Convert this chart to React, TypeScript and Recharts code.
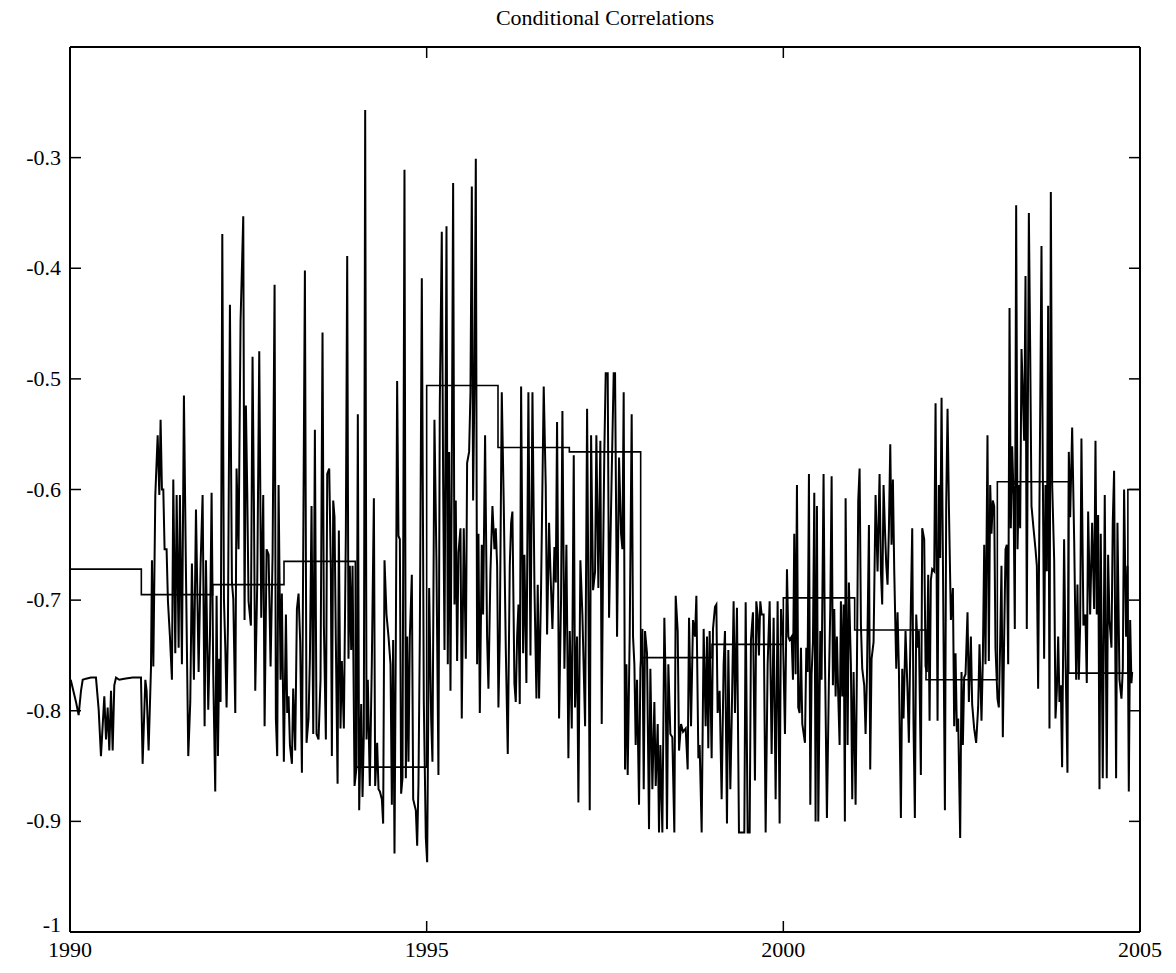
import { Line, LineChart, XAxis, YAxis } from "recharts";

// weekly conditional correlation as [year, value]
const dcc1990 = [
  [1990.01, -0.772], [1990.084, -0.792], [1990.121, -0.804], [1990.154, -0.782], [1990.178, -0.772],
  [1990.224, -0.771], [1990.294, -0.77], [1990.364, -0.77], [1990.402, -0.799], [1990.434, -0.841],
  [1990.481, -0.787], [1990.505, -0.826], [1990.528, -0.797], [1990.551, -0.836], [1990.575, -0.782],
  [1990.598, -0.836], [1990.621, -0.777], [1990.645, -0.77], [1990.691, -0.772], [1990.761, -0.771],
  [1990.878, -0.77], [1990.995, -0.77], [1991.018, -0.848], [1991.056, -0.772], [1991.074, -0.782],
  [1991.102, -0.836], [1991.135, -0.762], [1991.149, -0.664], [1991.168, -0.76], [1991.196, -0.605],
  [1991.229, -0.551],
];
const dcc1991 = [
  [1991.252, -0.605], [1991.27, -0.537], [1991.289, -0.6], [1991.308, -0.6], [1991.326, -0.654],
  [1991.354, -0.654], [1991.373, -0.701], [1991.401, -0.733], [1991.429, -0.772], [1991.448, -0.591],
  [1991.476, -0.748], [1991.495, -0.605], [1991.523, -0.743], [1991.541, -0.605], [1991.569, -0.758],
  [1991.597, -0.515], [1991.625, -0.672], [1991.658, -0.841], [1991.686, -0.792], [1991.709, -0.667],
  [1991.737, -0.772], [1991.766, -0.618], [1991.803, -0.765], [1991.831, -0.667], [1991.859, -0.605],
  [1991.887, -0.814], [1991.906, -0.664], [1991.938, -0.799], [1991.962, -0.733], [1991.985, -0.603],
  [1992.008, -0.767], [1992.036, -0.873], [1992.055, -0.696], [1992.074, -0.841], [1992.092, -0.753],
  [1992.111, -0.792], [1992.135, -0.369], [1992.158, -0.699], [1992.177, -0.743], [1992.195, -0.797],
  [1992.214, -0.723], [1992.242, -0.433], [1992.27, -0.684], [1992.289, -0.699], [1992.317, -0.802],
  [1992.335, -0.581], [1992.363, -0.654], [1992.391, -0.448], [1992.429, -0.353], [1992.447, -0.718],
  [1992.466, -0.524], [1992.485, -0.603], [1992.503, -0.701],
];
const dcc1992 = [
  [1992.536, -0.723], [1992.559, -0.48], [1992.578, -0.61], [1992.597, -0.782], [1992.625, -0.684],
  [1992.653, -0.475], [1992.681, -0.716], [1992.709, -0.605], [1992.728, -0.814], [1992.756, -0.654],
  [1992.784, -0.659], [1992.812, -0.76], [1992.84, -0.659], [1992.868, -0.415], [1992.886, -0.807],
  [1992.905, -0.841], [1992.924, -0.596], [1992.952, -0.772], [1992.97, -0.694], [1992.998, -0.846],
  [1993.027, -0.713], [1993.045, -0.802], [1993.064, -0.787], [1993.083, -0.831], [1993.111, -0.848],
  [1993.129, -0.78], [1993.157, -0.836], [1993.181, -0.708], [1993.204, -0.694], [1993.227, -0.738],
  [1993.251, -0.856], [1993.274, -0.605], [1993.293, -0.402], [1993.316, -0.829], [1993.344, -0.807],
  [1993.363, -0.753], [1993.386, -0.615], [1993.41, -0.821], [1993.433, -0.546], [1993.456, -0.821],
  [1993.484, -0.826], [1993.512, -0.772], [1993.54, -0.458], [1993.559, -0.723], [1993.587, -0.826],
  [1993.606, -0.586], [1993.634, -0.581], [1993.657, -0.674], [1993.671, -0.841], [1993.69, -0.61],
  [1993.708, -0.625], [1993.727, -0.738], [1993.751, -0.866], [1993.769, -0.637],
];
const dcc1993 = [
  [1993.792, -0.816], [1993.811, -0.755], [1993.839, -0.816], [1993.867, -0.64], [1993.886, -0.389],
  [1993.904, -0.753], [1993.923, -0.669], [1993.942, -0.745], [1993.961, -0.669], [1993.989, -0.868],
  [1994.017, -0.851], [1994.035, -0.532], [1994.054, -0.89], [1994.082, -0.794], [1994.101, -0.878],
  [1994.119, -0.821], [1994.138, -0.257], [1994.157, -0.826], [1994.175, -0.772], [1994.203, -0.868],
  [1994.231, -0.758], [1994.26, -0.608], [1994.278, -0.868], [1994.306, -0.829], [1994.325, -0.871],
  [1994.344, -0.873], [1994.372, -0.88], [1994.39, -0.902], [1994.409, -0.664], [1994.437, -0.713],
  [1994.465, -0.733], [1994.493, -0.758], [1994.512, -0.885], [1994.53, -0.736], [1994.549, -0.929],
  [1994.568, -0.733], [1994.586, -0.502], [1994.605, -0.642], [1994.624, -0.645], [1994.642, -0.875],
  [1994.661, -0.861], [1994.689, -0.311], [1994.708, -0.861], [1994.727, -0.733], [1994.745, -0.846],
  [1994.764, -0.733], [1994.792, -0.677], [1994.811, -0.88], [1994.829, -0.885], [1994.848, -0.89],
  [1994.867, -0.922], [1994.885, -0.866], [1994.904, -0.733], [1994.932, -0.409], [1994.96, -0.792],
  [1994.988, -0.915],
];
const dcc1995 = [
  [1995.007, -0.937], [1995.035, -0.689], [1995.063, -0.807], [1995.081, -0.846], [1995.109, -0.537],
  [1995.137, -0.664], [1995.165, -0.858], [1995.184, -0.524], [1995.212, -0.367], [1995.231, -0.593],
  [1995.25, -0.745], [1995.278, -0.362], [1995.296, -0.758], [1995.315, -0.566], [1995.334, -0.782],
  [1995.352, -0.581], [1995.371, -0.323], [1995.39, -0.704], [1995.408, -0.61], [1995.427, -0.755],
  [1995.446, -0.657], [1995.474, -0.635], [1995.492, -0.807], [1995.52, -0.635], [1995.549, -0.753],
  [1995.567, -0.576], [1995.595, -0.566], [1995.614, -0.512], [1995.633, -0.326], [1995.651, -0.61],
  [1995.67, -0.502], [1995.689, -0.301], [1995.707, -0.758], [1995.726, -0.64], [1995.745, -0.802],
  [1995.773, -0.65], [1995.791, -0.713], [1995.819, -0.551], [1995.847, -0.733], [1995.866, -0.78],
  [1995.894, -0.674], [1995.922, -0.615], [1995.95, -0.654], [1995.969, -0.635], [1995.988, -0.669],
  [1996.006, -0.797], [1996.025, -0.733], [1996.053, -0.512], [1996.081, -0.615], [1996.109, -0.743],
  [1996.137, -0.839], [1996.165, -0.669], [1996.184, -0.63], [1996.202, -0.62], [1996.23, -0.775],
  [1996.249, -0.792], [1996.268, -0.733], [1996.287, -0.704],
];
const dcc1996 = [
  [1996.305, -0.794], [1996.324, -0.507], [1996.352, -0.748], [1996.37, -0.659], [1996.398, -0.775],
  [1996.426, -0.512], [1996.455, -0.75], [1996.483, -0.512], [1996.511, -0.689], [1996.539, -0.789],
  [1996.557, -0.686], [1996.576, -0.789], [1996.604, -0.689], [1996.641, -0.507], [1996.669, -0.596],
  [1996.688, -0.731], [1996.716, -0.63], [1996.735, -0.674], [1996.763, -0.726], [1996.791, -0.652],
  [1996.81, -0.684], [1996.828, -0.539], [1996.856, -0.807], [1996.884, -0.699], [1996.903, -0.529],
  [1996.931, -0.762], [1996.959, -0.65], [1996.987, -0.843], [1997.006, -0.728], [1997.034, -0.816],
  [1997.062, -0.569], [1997.08, -0.797], [1997.108, -0.733], [1997.127, -0.883], [1997.155, -0.664],
  [1997.183, -0.713], [1997.221, -0.814], [1997.249, -0.527], [1997.267, -0.694], [1997.286, -0.89],
  [1997.305, -0.551], [1997.333, -0.691], [1997.361, -0.674], [1997.379, -0.551], [1997.407, -0.689],
  [1997.435, -0.556], [1997.454, -0.812], [1997.473, -0.664], [1997.491, -0.564], [1997.51, -0.495],
  [1997.538, -0.495], [1997.557, -0.716],
];
const dcc1997 = [
  [1997.594, -0.586], [1997.622, -0.495], [1997.641, -0.495], [1997.669, -0.733], [1997.697, -0.571],
  [1997.725, -0.64], [1997.744, -0.654], [1997.762, -0.512], [1997.781, -0.853], [1997.8, -0.758],
  [1997.818, -0.858], [1997.846, -0.733], [1997.874, -0.532], [1997.893, -0.733], [1997.912, -0.758],
  [1997.93, -0.831], [1997.949, -0.772], [1997.977, -0.885], [1997.996, -0.762], [1998.024, -0.726],
  [1998.043, -0.871], [1998.061, -0.728], [1998.089, -0.748], [1998.117, -0.907], [1998.136, -0.762],
  [1998.164, -0.871], [1998.192, -0.792], [1998.211, -0.868], [1998.239, -0.812], [1998.257, -0.91],
  [1998.276, -0.831], [1998.304, -0.91], [1998.332, -0.716], [1998.351, -0.777], [1998.369, -0.907],
  [1998.388, -0.758], [1998.416, -0.821], [1998.444, -0.824], [1998.472, -0.91], [1998.491, -0.696],
  [1998.519, -0.728], [1998.538, -0.836], [1998.566, -0.812], [1998.594, -0.819], [1998.631, -0.816],
  [1998.659, -0.853], [1998.678, -0.716], [1998.706, -0.814], [1998.734, -0.718], [1998.762, -0.733],
  [1998.781, -0.696], [1998.809, -0.843],
];
const dcc1998 = [
  [1998.827, -0.831], [1998.855, -0.91], [1998.883, -0.726], [1998.911, -0.814], [1998.93, -0.733],
  [1998.948, -0.834], [1998.967, -0.728], [1998.995, -0.843], [1999.014, -0.726], [1999.042, -0.706],
  [1999.061, -0.704], [1999.079, -0.802], [1999.107, -0.782], [1999.135, -0.88], [1999.163, -0.758],
  [1999.182, -0.728], [1999.21, -0.902], [1999.229, -0.745], [1999.257, -0.871], [1999.275, -0.812],
  [1999.303, -0.701], [1999.322, -0.802], [1999.35, -0.707], [1999.378, -0.91], [1999.416, -0.91],
  [1999.453, -0.91], [1999.472, -0.702], [1999.5, -0.91], [1999.528, -0.91], [1999.546, -0.736],
  [1999.574, -0.711], [1999.602, -0.863], [1999.621, -0.701], [1999.64, -0.713], [1999.658, -0.75],
  [1999.677, -0.701], [1999.696, -0.713], [1999.724, -0.713], [1999.752, -0.91], [1999.78, -0.758],
  [1999.808, -0.701], [1999.836, -0.839], [1999.864, -0.716], [1999.892, -0.88], [1999.92, -0.701],
  [1999.948, -0.902], [1999.967, -0.708], [1999.995, -0.733], [2000.023, -0.821], [2000.051, -0.672],
  [2000.07, -0.733],
];
const dcc2000 = [
  [2000.088, -0.736], [2000.116, -0.733], [2000.135, -0.772], [2000.153, -0.64], [2000.172, -0.767],
  [2000.191, -0.596], [2000.209, -0.797], [2000.228, -0.802], [2000.247, -0.743], [2000.266, -0.812],
  [2000.303, -0.829], [2000.322, -0.743], [2000.34, -0.765], [2000.359, -0.586], [2000.378, -0.885],
  [2000.396, -0.767], [2000.415, -0.738], [2000.434, -0.603], [2000.452, -0.9], [2000.471, -0.615],
  [2000.49, -0.9], [2000.518, -0.728], [2000.536, -0.772], [2000.564, -0.586], [2000.583, -0.748],
  [2000.611, -0.897], [2000.639, -0.772], [2000.658, -0.708], [2000.677, -0.588], [2000.695, -0.777],
  [2000.714, -0.708], [2000.733, -0.787], [2000.751, -0.733], [2000.77, -0.787], [2000.789, -0.831],
  [2000.807, -0.701], [2000.826, -0.787], [2000.845, -0.704], [2000.863, -0.9], [2000.873, -0.608],
  [2000.901, -0.831], [2000.919, -0.684], [2000.947, -0.758], [2000.966, -0.88], [2000.985, -0.765],
  [2001.013, -0.885], [2001.032, -0.758], [2001.05, -0.61], [2001.069, -0.581], [2001.088, -0.723],
  [2001.106, -0.762], [2001.134, -0.777], [2001.153, -0.821], [2001.172, -0.77], [2001.2, -0.632],
  [2001.218, -0.853], [2001.237, -0.753], [2001.265, -0.738], [2001.293, -0.605], [2001.321, -0.674],
];
const dcc2001 = [
  [2001.349, -0.586], [2001.368, -0.674], [2001.386, -0.704], [2001.405, -0.596], [2001.424, -0.635],
  [2001.442, -0.667], [2001.461, -0.686], [2001.48, -0.635], [2001.499, -0.559], [2001.517, -0.65],
  [2001.536, -0.591], [2001.555, -0.674], [2001.583, -0.762], [2001.601, -0.711], [2001.62, -0.762],
  [2001.648, -0.897], [2001.667, -0.762], [2001.685, -0.807], [2001.713, -0.728], [2001.741, -0.782],
  [2001.76, -0.829], [2001.788, -0.704], [2001.807, -0.635], [2001.825, -0.812], [2001.844, -0.897],
  [2001.863, -0.713], [2001.882, -0.743], [2001.9, -0.728], [2001.928, -0.858], [2001.947, -0.635],
  [2001.975, -0.645], [2001.994, -0.76], [2002.012, -0.765], [2002.031, -0.677], [2002.05, -0.809],
  [2002.068, -0.682], [2002.087, -0.672], [2002.115, -0.674], [2002.134, -0.522], [2002.162, -0.809],
  [2002.18, -0.596], [2002.199, -0.662], [2002.218, -0.517], [2002.236, -0.654], [2002.265, -0.89],
  [2002.283, -0.615], [2002.302, -0.527], [2002.321, -0.615], [2002.349, -0.718], [2002.377, -0.689],
  [2002.395, -0.814], [2002.414, -0.748], [2002.433, -0.819], [2002.451, -0.807], [2002.479, -0.915],
  [2002.498, -0.765], [2002.517, -0.831], [2002.535, -0.77], [2002.554, -0.767], [2002.582, -0.711],
  [2002.601, -0.792],
];
const dcc2002 = [
  [2002.629, -0.733], [2002.647, -0.794], [2002.675, -0.816], [2002.703, -0.829], [2002.731, -0.797],
  [2002.75, -0.74], [2002.778, -0.809], [2002.797, -0.753], [2002.816, -0.65], [2002.834, -0.758],
  [2002.862, -0.551], [2002.881, -0.755], [2002.9, -0.596], [2002.918, -0.64], [2002.937, -0.61],
  [2002.956, -0.615], [2002.974, -0.743], [2003.002, -0.789], [2003.021, -0.797], [2003.04, -0.738],
  [2003.058, -0.669], [2003.077, -0.824], [2003.096, -0.733], [2003.115, -0.654], [2003.133, -0.65],
  [2003.152, -0.758], [2003.171, -0.436], [2003.189, -0.635], [2003.208, -0.561], [2003.227, -0.605],
  [2003.245, -0.726], [2003.264, -0.343], [2003.283, -0.654], [2003.301, -0.596], [2003.32, -0.635],
  [2003.339, -0.473], [2003.357, -0.512], [2003.376, -0.556], [2003.395, -0.407], [2003.413, -0.726],
  [2003.442, -0.35], [2003.46, -0.47], [2003.479, -0.615], [2003.507, -0.635], [2003.535, -0.654],
  [2003.554, -0.669], [2003.572, -0.78], [2003.591, -0.61], [2003.619, -0.38], [2003.638, -0.586],
  [2003.656, -0.753], [2003.675, -0.596], [2003.694, -0.674], [2003.712, -0.434], [2003.731, -0.816],
  [2003.75, -0.331], [2003.769, -0.596], [2003.797, -0.664], [2003.815, -0.807], [2003.834, -0.782],
  [2003.853, -0.733],
];
const dcc2003 = [
  [2003.871, -0.792], [2003.89, -0.777], [2003.908, -0.851], [2003.936, -0.645], [2003.955, -0.748],
  [2003.983, -0.856], [2004.002, -0.566], [2004.021, -0.625], [2004.049, -0.544], [2004.077, -0.645],
  [2004.105, -0.772], [2004.123, -0.686], [2004.142, -0.772], [2004.161, -0.723], [2004.179, -0.554],
  [2004.207, -0.723], [2004.235, -0.713], [2004.254, -0.775], [2004.273, -0.62], [2004.301, -0.713],
  [2004.329, -0.63], [2004.357, -0.708], [2004.376, -0.556], [2004.394, -0.713], [2004.413, -0.623],
  [2004.432, -0.871], [2004.45, -0.64], [2004.478, -0.861], [2004.506, -0.605], [2004.534, -0.861],
  [2004.553, -0.659], [2004.572, -0.718], [2004.6, -0.743], [2004.618, -0.63], [2004.637, -0.583],
  [2004.665, -0.861], [2004.684, -0.63], [2004.712, -0.772], [2004.74, -0.789], [2004.759, -0.762],
  [2004.777, -0.6], [2004.805, -0.733], [2004.824, -0.669], [2004.843, -0.873], [2004.862, -0.718],
  [2004.88, -0.775], [2004.89, -0.765],
];

// piecewise constant (yearly) correlation
const stepStarts = [1990, 1991, 1992, 1993, 1994, 1995, 1996, 1997, 1998, 1999, 2000, 2001, 2002, 2003, 2004, 2004.83, 2005];
const stepLevels = [-0.672, -0.695, -0.686, -0.665, -0.851, -0.506, -0.562, -0.566, -0.752, -0.74, -0.698, -0.727, -0.772, -0.593, -0.766, -0.6, -0.6];

const xTicks = [1990, 1995, 2000, 2005];
const yTicks = [-1, -0.9, -0.8, -0.7, -0.6, -0.5, -0.4, -0.3];

const dccData = [
  ...dcc1990, ...dcc1991, ...dcc1992, ...dcc1993, ...dcc1995, ...dcc1996,
  ...dcc1997, ...dcc1998, ...dcc2000, ...dcc2001, ...dcc2002, ...dcc2003,
].map(([year, value]) => ({ year, value }));
const stepData = stepStarts.map((year, i) => ({ year, value: stepLevels[i] }));

const font = "Liberation Serif";
const fontSize = 22;
const tickLen = 11;

const fmtY = (v: number) => (v === -1 ? "-1" : v.toFixed(1));

const LeftTick = ({ x, y, payload }: any) => (
  <g>
    <line x1={x} x2={x + tickLen} y1={y} y2={y} stroke="#000" strokeWidth={1.5} />
    <text x={x - 9} y={payload.value === -1 ? y : y + 7} textAnchor="end" fontFamily={font} fontSize={fontSize} fill="#000">
      {fmtY(payload.value)}
    </text>
  </g>
);
const RightTick = ({ x, y }: any) => (
  <line x1={x - tickLen} x2={x} y1={y} y2={y} stroke="#000" strokeWidth={1.5} />
);
const BottomTick = ({ x, y, payload }: any) => (
  <g>
    <line x1={x} x2={x} y1={y} y2={y - tickLen} stroke="#000" strokeWidth={1.5} />
    <text x={x} y={y + 25} textAnchor="middle" fontFamily={font} fontSize={fontSize} fill="#000">
      {payload.value}
    </text>
  </g>
);
const TopTick = ({ x, y }: any) => (
  <line x1={x} x2={x} y1={y} y2={y + tickLen} stroke="#000" strokeWidth={1.5} />
);

export default function App() {
  const axisLine = { stroke: "#000", strokeWidth: 2 };
  return (
    <div style={{ position: "relative", width: 1160, height: 957 }}>
      <div
        style={{
          position: "absolute", top: -3, left: 62, width: 1070, textAlign: "center",
          fontFamily: font, fontSize: 22, lineHeight: "26px", color: "#000",
        }}
      >
        Conditional Correlations
      </div>
      <LineChart width={1160} height={957} margin={{ top: 29, right: 18, bottom: 3, left: 2 }}>
        <XAxis
          dataKey="year" type="number" domain={[1990, 2005]} ticks={xTicks} interval={0}
          allowDataOverflow axisLine={axisLine} tickLine={false} tickSize={0} tickMargin={0}
          height={30} tick={<BottomTick />}
        />
        <XAxis
          xAxisId="top" orientation="top" dataKey="year" type="number" domain={[1990, 2005]} ticks={xTicks}
          interval={0} allowDataOverflow axisLine={axisLine} tickLine={false} tickSize={0} tickMargin={0}
          height={10} tick={<TopTick />}
        />
        <YAxis
          type="number" domain={[-1, -0.2]} ticks={yTicks} interval={0} allowDataOverflow
          axisLine={axisLine} tickLine={false} tickSize={0} tickMargin={0} width={60} tick={<LeftTick />}
        />
        <YAxis
          yAxisId="right" orientation="right" type="number" domain={[-1, -0.2]} ticks={yTicks} interval={0}
          allowDataOverflow axisLine={axisLine} tickLine={false} tickSize={0} tickMargin={0} width={10}
          tick={<RightTick />}
        />
        <Line
          data={dccData} dataKey="value" type="linear" dot={false} stroke="#000" strokeWidth={2}
          isAnimationActive={false}
        />
        <Line
          data={stepData} dataKey="value" type="stepAfter" dot={false} stroke="#000" strokeWidth={1.6}
          isAnimationActive={false}
        />
      </LineChart>
    </div>
  );
}
